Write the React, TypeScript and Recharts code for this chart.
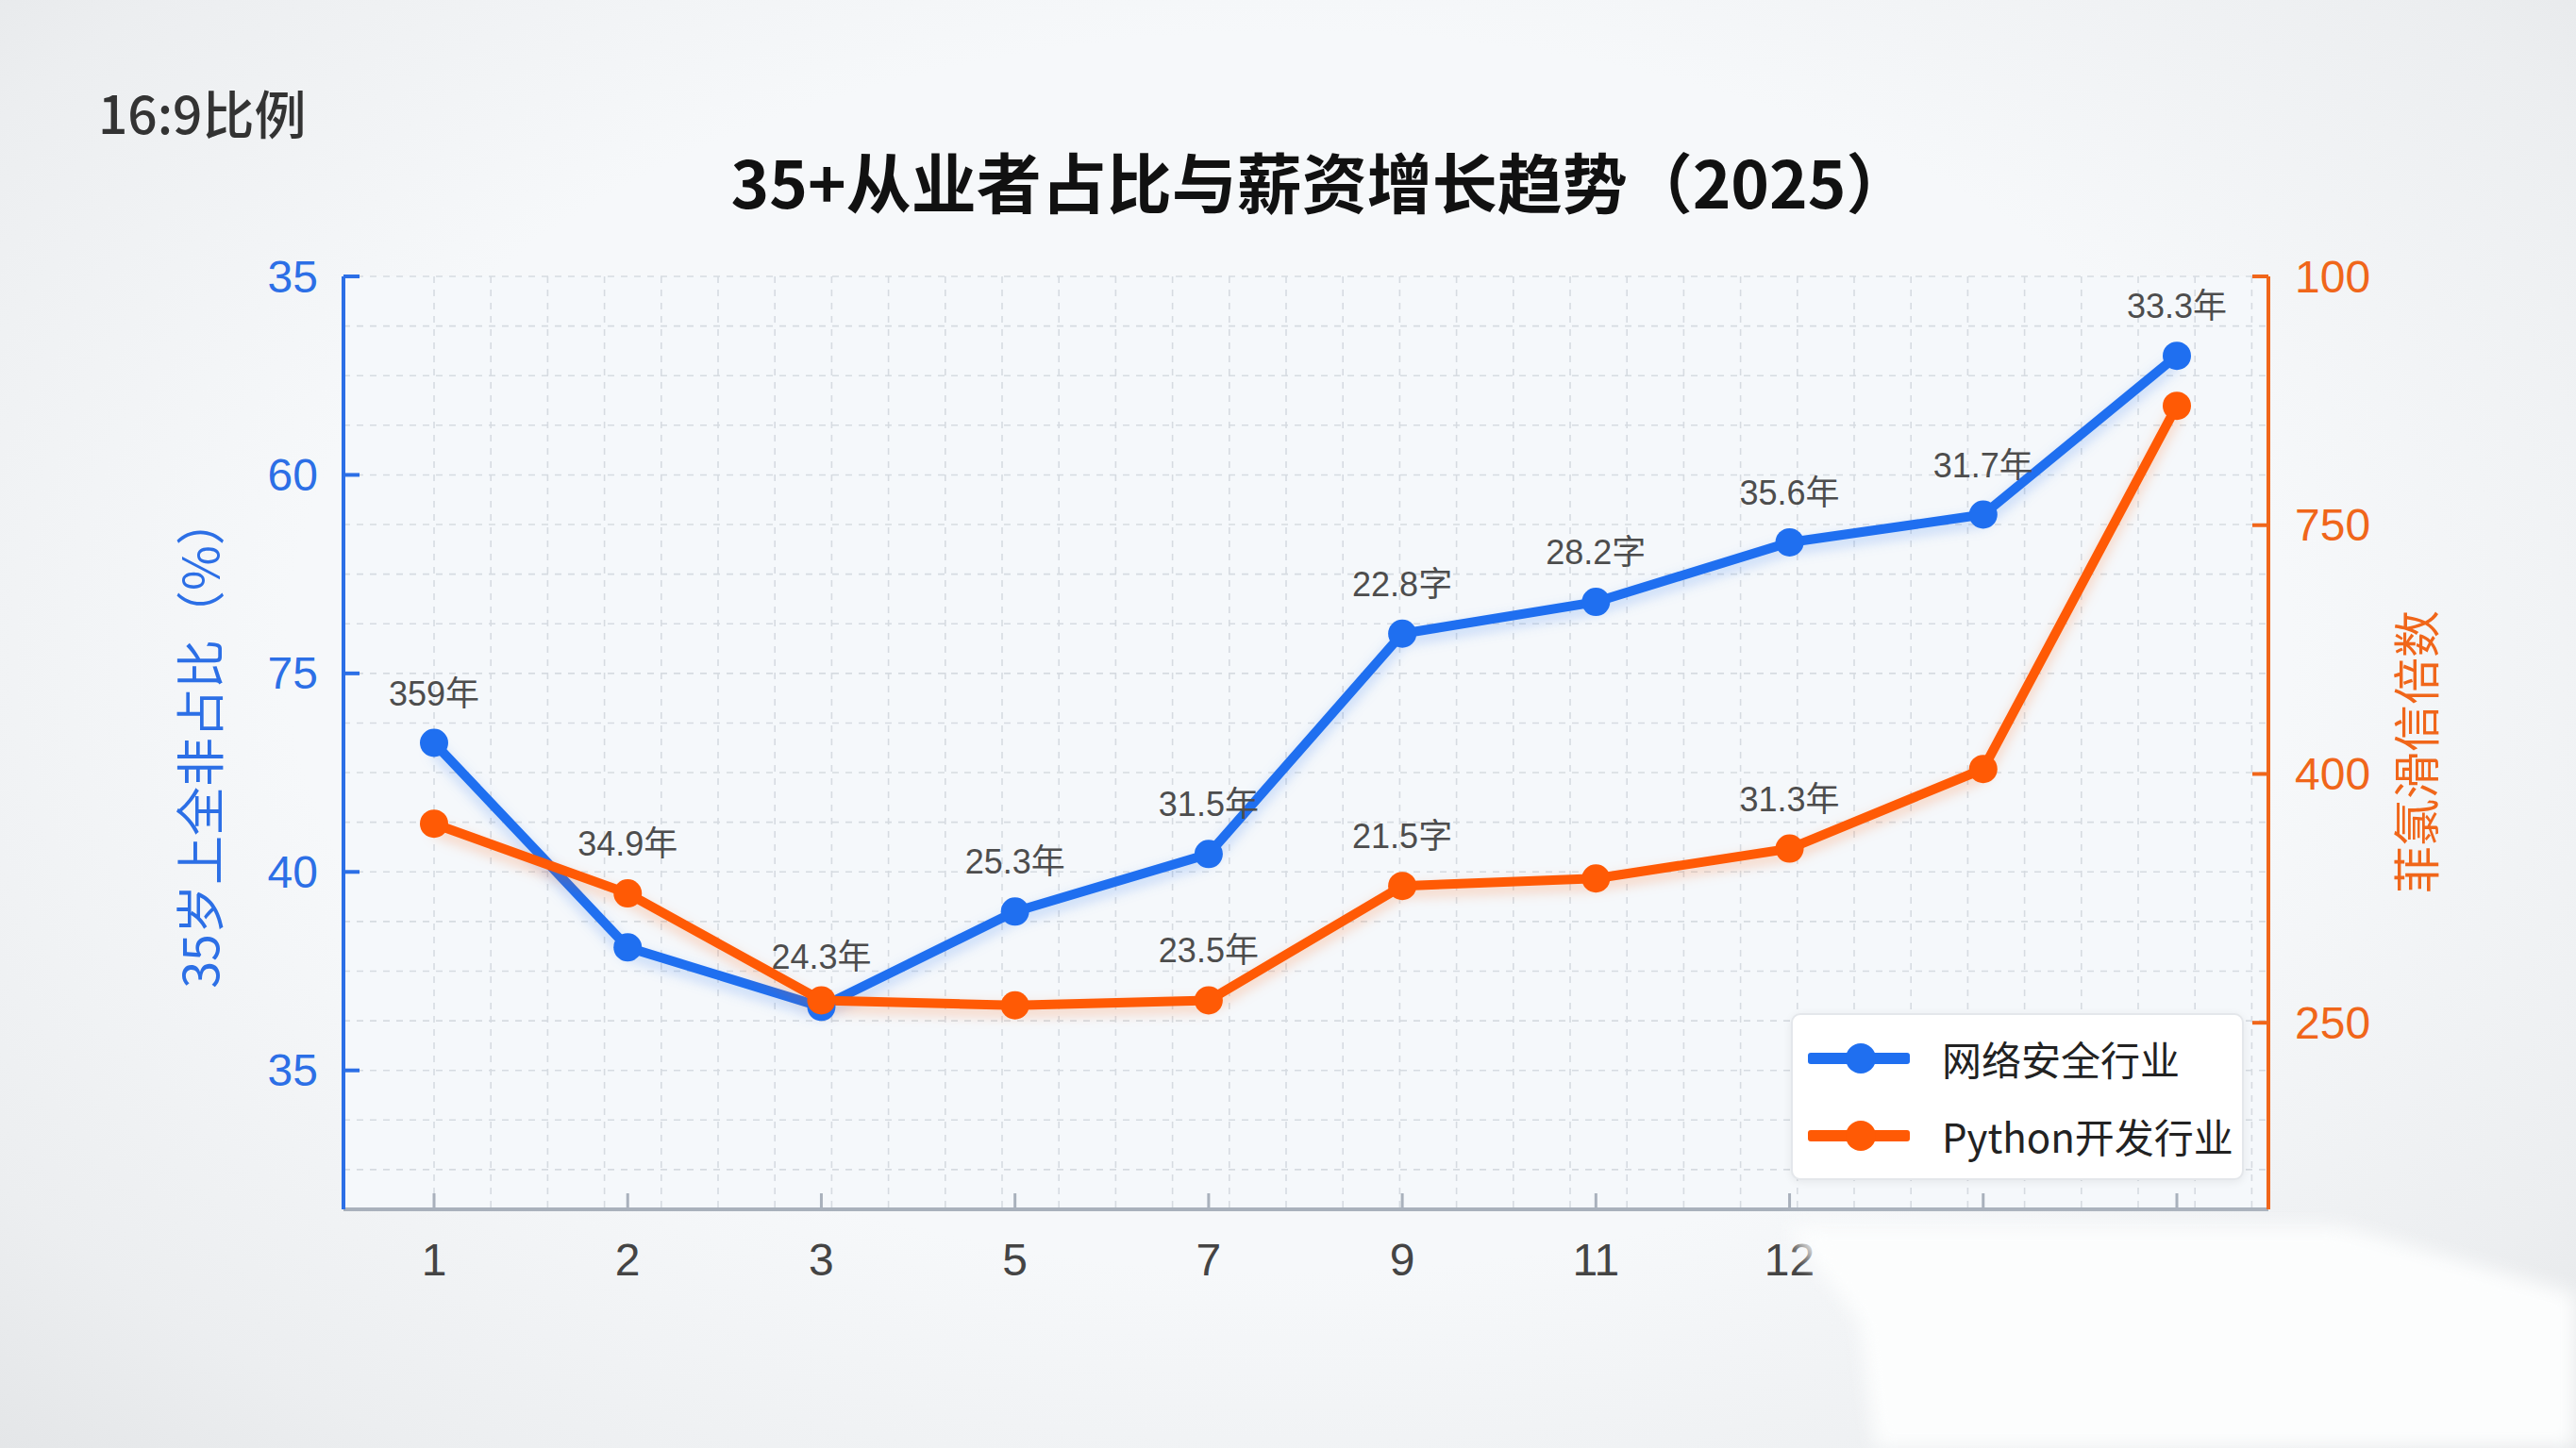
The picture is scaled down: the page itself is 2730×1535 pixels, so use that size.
import React from "react";
import { LineChart, Line, XAxis, YAxis, CartesianGrid, LabelList } from "recharts";

const X_LABELS = ["1", "2", "3", "5", "7", "9", "11", "12", "", ""];
// values are read against the (odd) tick labels, in tick-index units
const SECURITY_VALUES = [1.65, 0.62, 0.32, 0.8, 1.09, 2.2, 2.36, 2.66, 2.8, 3.6];
const PYTHON_VALUES = [0.8, 0.52, 0.09, 0.07, 0.09, 0.55, 0.58, 0.7, 1.02, 2.48];
const SECURITY_LABELS = ["359年", "", "24.3年", "25.3年", "31.5年", "22.8字", "28.2字", "35.6年", "31.7年", "33.3年"];
const PYTHON_LABELS = ["", "34.9年", "", "", "23.5年", "21.5字", "", "31.3年", "", ""];
const LEFT_TICK_LABELS = ["35", "40", "75", "60", "35"];
const RIGHT_TICK_LABELS = ["250", "400", "750", "100"];
const SERIES_NAMES = ["网络安全行业", "Python开发行业"];

const LEFT_DOMAIN: [number, number] = [-0.7, 4];
const RIGHT_DOMAIN: [number, number] = [-0.75, 3];

const BLUE = "#1f6ff0";
const ORANGE = "#ff5a05";
const BLUE_AXIS = "#2c6fe6";
const ORANGE_AXIS = "#f0661a";
const FONT = '"Liberation Sans", "Noto Sans CJK SC", sans-serif';
const CJK = '"Noto Sans CJK SC", "Liberation Sans", sans-serif';

const data = X_LABELS.map((label, i) => ({
  slot: i,
  label,
  security: SECURITY_VALUES[i],
  python: PYTHON_VALUES[i],
  securityLabel: SECURITY_LABELS[i],
  pythonLabel: PYTHON_LABELS[i],
}));

const LeftTick = (props: any) => {
  const { x, y, payload } = props;
  return (
    <g>
      <line x1={x} x2={x + 17} y1={y} y2={y} stroke={BLUE_AXIS} strokeWidth={4} />
      <text x={x - 27} y={y} textAnchor="end" dominantBaseline="central" fontSize={48} fill={BLUE_AXIS} fontFamily={FONT}>
        {LEFT_TICK_LABELS[payload.value]}
      </text>
    </g>
  );
};

const RightTick = (props: any) => {
  const { x, y, payload } = props;
  return (
    <g>
      <line x1={x} x2={x - 17} y1={y} y2={y} stroke={ORANGE_AXIS} strokeWidth={4} />
      <text x={x + 28} y={y} textAnchor="start" dominantBaseline="central" fontSize={48} fill={ORANGE_AXIS} fontFamily={FONT}>
        {RIGHT_TICK_LABELS[payload.value]}
      </text>
    </g>
  );
};

const BottomTick = (props: any) => {
  const { x, y, payload } = props;
  return (
    <g>
      <line x1={x} x2={x} y1={y} y2={y - 17} stroke="#a9b1bc" strokeWidth={3} />
      <text x={x} y={y + 70} textAnchor="middle" fontSize={48} fill="#444" fontFamily={FONT}>
        {X_LABELS[payload.value]}
      </text>
    </g>
  );
};

const PointLabel = (props: any) => {
  const { x, y, value } = props;
  if (!value) return null;
  return (
    <text x={x} y={y - 40} textAnchor="middle" fontSize={36} fill="#4d4d4d" fontFamily={FONT}>
      {value}
    </text>
  );
};

const quarterRows = () => {
  const rows: number[] = [];
  for (let v = LEFT_DOMAIN[1]; v > LEFT_DOMAIN[0]; v -= 0.25) rows.push(v);
  return rows;
};

export default function App() {
  return (
    <div
      style={{
        position: "relative",
        width: 2730,
        height: 1535,
        overflow: "hidden",
        background: "radial-gradient(ellipse at 50% 45%, #f6f8fa 55%, #eceef0 85%, #e4e6e8 100%)",
        fontFamily: CJK,
      }}
    >
      <style>{`
        body { margin: 0; }
        .sec-line .recharts-line-curve { filter: drop-shadow(0 6px 7px rgba(31,111,240,0.28)); }
        .py-line .recharts-line-curve { filter: drop-shadow(0 6px 7px rgba(255,90,5,0.28)); }
      `}</style>

      <div style={{ position: "absolute", left: 104, top: 86, fontSize: 55, color: "#333", fontWeight: 500, lineHeight: "64px" }}>
        16:9比例
      </div>
      <div
        style={{
          position: "absolute",
          left: 0,
          width: 2800,
          top: 146,
          textAlign: "center",
          fontSize: 69,
          fontWeight: 700,
          color: "#111",
          lineHeight: "90px",
        }}
      >
        35+从业者占比与薪资增长趋势（2025）
      </div>

      <LineChart
        width={2730}
        height={1535}
        data={data}
        margin={{ top: 293, right: 206, bottom: 153, left: 244 }}
        style={{ position: "absolute", left: 0, top: 0 }}
      >
        <CartesianGrid
          stroke="#d6dbe1"
          strokeDasharray="7 7"
          strokeWidth={1.6}
          fill="#f5f8fb"
          horizontalCoordinatesGenerator={({ offset }: any) =>
            quarterRows().map(
              (v) => offset.top + ((LEFT_DOMAIN[1] - v) / (LEFT_DOMAIN[1] - LEFT_DOMAIN[0])) * offset.height
            )
          }
          verticalCoordinatesGenerator={({ offset }: any) =>
            Array.from({ length: 33 }, (_, i) => offset.left + 96 + i * 60.2)
          }
        />
        <XAxis
          dataKey="slot"
          type="category"
          interval={0}
          height={100}
          padding={{ left: 96, right: 97 }}
          axisLine={{ stroke: "#a9b1bc", strokeWidth: 4 }}
          tickLine={false}
          tickSize={0}
          tickMargin={0}
          tick={<BottomTick />}
        />
        <YAxis
          yAxisId="left"
          type="number"
          domain={LEFT_DOMAIN}
          ticks={[0, 1, 2, 3, 4]}
          width={120}
          allowDataOverflow
          axisLine={{ stroke: BLUE_AXIS, strokeWidth: 4 }}
          tickLine={false}
          tickSize={0}
          tickMargin={0}
          tick={<LeftTick />}
        />
        <YAxis
          yAxisId="right"
          orientation="right"
          type="number"
          domain={RIGHT_DOMAIN}
          ticks={[0, 1, 2, 3]}
          width={120}
          allowDataOverflow
          axisLine={{ stroke: ORANGE_AXIS, strokeWidth: 4 }}
          tickLine={false}
          tickSize={0}
          tickMargin={0}
          tick={<RightTick />}
        />
        <Line
          yAxisId="left"
          className="sec-line"
          dataKey="security"
          stroke={BLUE}
          strokeWidth={10}
          dot={{ r: 15, fill: BLUE, stroke: BLUE, strokeWidth: 0 }}
          activeDot={false}
          isAnimationActive={false}
        >
          <LabelList dataKey="securityLabel" content={<PointLabel />} />
        </Line>
        <Line
          yAxisId="right"
          className="py-line"
          dataKey="python"
          stroke={ORANGE}
          strokeWidth={10}
          dot={{ r: 15, fill: ORANGE, stroke: ORANGE, strokeWidth: 0 }}
          activeDot={false}
          isAnimationActive={false}
        >
          <LabelList dataKey="pythonLabel" content={<PointLabel />} />
        </Line>
      </LineChart>

      {/* left axis title */}
      <div
        style={{
          position: "absolute",
          left: 209,
          top: 787,
          transform: "translate(-50%, -50%) rotate(-90deg)",
          whiteSpace: "nowrap",
          fontSize: 52,
          color: BLUE_AXIS,
        }}
      >
        35岁上全非占比（%）
      </div>
      {/* right axis title */}
      <div
        style={{
          position: "absolute",
          left: 2558,
          top: 797,
          transform: "translate(-50%, -50%) rotate(-90deg)",
          whiteSpace: "nowrap",
          fontSize: 50,
          color: ORANGE_AXIS,
        }}
      >
        菲氯滑信倍数
      </div>

      {/* legend */}
      <div
        style={{
          position: "absolute",
          left: 1898,
          top: 1074,
          width: 480,
          height: 177,
          background: "#fff",
          border: "2px solid #e4e7eb",
          borderRadius: 10,
          boxShadow: "0 2px 10px rgba(0,0,0,0.07)",
          boxSizing: "border-box",
        }}
      >
        {SERIES_NAMES.map((name, i) => {
          const color = i === 0 ? BLUE : ORANGE;
          return (
            <div key={name} style={{ position: "absolute", left: 0, top: i === 0 ? 46 : 128, width: "100%" }}>
              <div
                style={{
                  position: "absolute",
                  left: 16,
                  top: -6,
                  width: 108,
                  height: 12,
                  borderRadius: 3,
                  background: color,
                }}
              />
              <div
                style={{
                  position: "absolute",
                  left: 56,
                  top: -16,
                  width: 32,
                  height: 32,
                  borderRadius: 16,
                  background: color,
                }}
              />
              <div
                style={{
                  position: "absolute",
                  left: 158,
                  top: -28,
                  fontSize: 42,
                  lineHeight: "56px",
                  color: "#222",
                  whiteSpace: "nowrap",
                }}
              >
                {name}
              </div>
            </div>
          );
        })}
      </div>

      {/* white smear over the bottom right */}
      <div
        style={{
          position: "absolute",
          left: 0,
          top: 0,
          width: 2730,
          height: 1535,
          filter: "blur(10px)",
          pointerEvents: "none",
        }}
      >
        <div
          style={{
            position: "absolute",
            left: 0,
            top: 0,
            width: 2730,
            height: 1535,
            background: "#fcfdfd",
            clipPath: "polygon(1892px 1300px, 2480px 1300px, 2760px 1380px, 2760px 1560px, 1990px 1560px, 1970px 1400px)",
          }}
        />
      </div>
    </div>
  );
}
